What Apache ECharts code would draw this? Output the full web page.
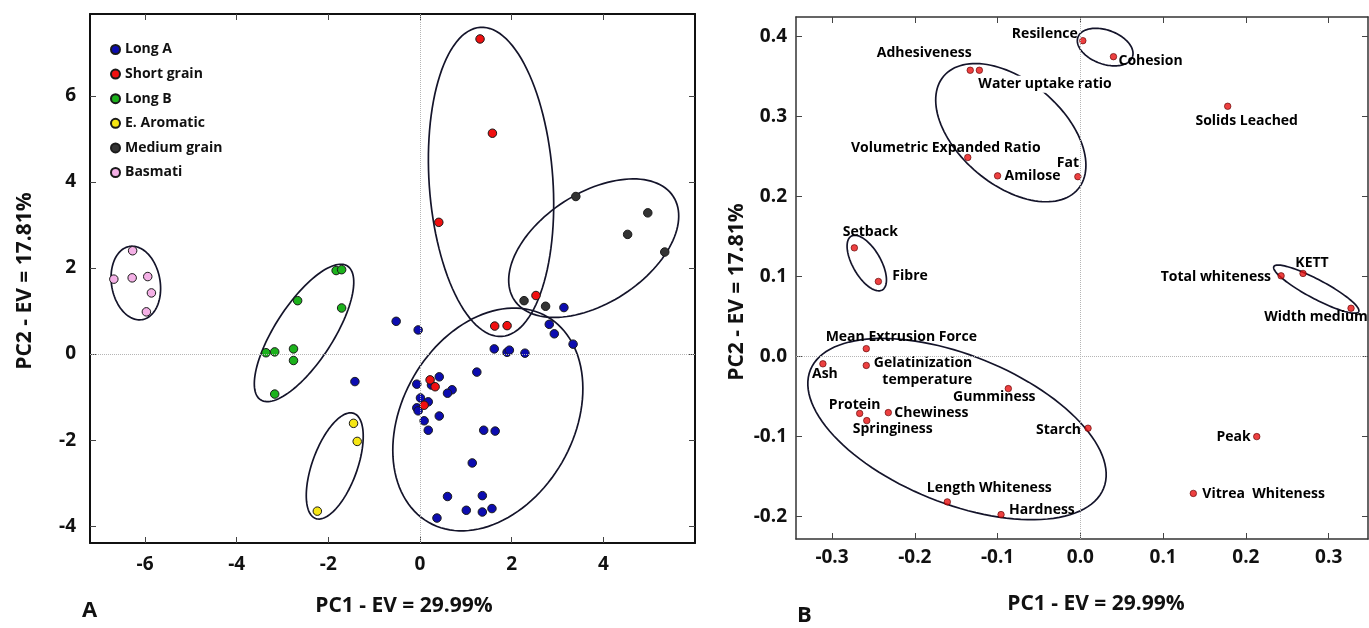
<!DOCTYPE html>
<html>
<head>
<meta charset="utf-8">
<title>PCA scores and loadings</title>
<script src="https://cdn.jsdelivr.net/npm/echarts@6/dist/echarts.min.js"></script>
<style>
  html, body { margin: 0; padding: 0; background: #fff; }
  #chart { width: 1369px; height: 628px; }
</style>
</head>
<body>
<div id="chart"></div>
<script>
// ---------- panel A : PCA scores [PC1, PC2] per rice group ----------
var groupNames = ['Long A', 'Short grain', 'Long B', 'E. Aromatic', 'Medium grain', 'Basmati'];
var groupColors = ['#0c0cb0', '#f01010', '#1cb21c', '#f6e614', '#333333', '#f4b0e6'];

var longA = [[-0.52, 0.76], [-1.42, -0.64], [-0.04, 0.56], [2.82, 0.69], [2.93, 0.47], [3.34, 0.23],
  [1.62, 0.12], [1.90, 0.04], [1.95, 0.09], [2.29, 0.02], [1.24, -0.42], [0.42, -0.53], [0.25, -0.72],
  [-0.07, -0.70], [0.70, -0.83], [0.60, -0.91], [0.01, -1.02], [0.18, -1.11], [-0.07, -1.25],
  [-0.04, -1.32], [0.42, -1.44], [0.09, -1.55], [0.18, -1.77], [1.39, -1.77], [1.64, -1.79],
  [1.14, -2.53], [0.60, -3.31], [1.36, -3.29], [1.01, -3.63], [1.36, -3.67], [1.57, -3.59],
  [0.37, -3.81], [3.14, 1.08]];
var shortGrain = [[1.31, 7.32], [1.58, 5.13], [0.41, 3.06], [2.53, 1.36], [1.63, 0.65], [1.90, 0.66],
  [0.22, -0.60], [0.33, -0.76], [0.09, -1.19]];
var longB = [[-1.83, 1.94], [-1.71, 1.96], [-2.67, 1.24], [-1.71, 1.07], [-3.36, 0.03], [-3.17, 0.05],
  [-2.76, 0.12], [-2.76, -0.15], [-3.17, -0.93]];
var eAromatic = [[-1.45, -1.61], [-1.37, -2.03], [-2.24, -3.65]];
var mediumGrain = [[3.40, 3.66], [4.97, 3.28], [4.53, 2.78], [5.34, 2.37], [2.27, 1.24], [2.74, 1.11]];
var basmati = [[-6.27, 2.40], [-6.68, 1.74], [-6.28, 1.77], [-5.94, 1.80], [-5.86, 1.42], [-5.97, 0.98]];

// group ellipses: centre x, centre y, semi axes (in PC1 units), angle in degrees
var ellipsesA = [
  [-6.20, 1.65, 0.81, 0.53, 100],
  [-2.53, 0.49, 1.74, 0.63, 57],
  [-1.86, -2.60, 1.22, 0.49, 70],
  [1.55, 4.00, 3.38, 1.35, 94],
  [3.79, 2.46, 2.07, 1.20, 33],
  [1.48, -1.52, 2.59, 1.87, 60]
];
var ticksAx = [-6, -4, -2, 0, 2, 4];
var ticksAy = [-4, -2, 0, 2, 4, 6];

// ---------- panel B : loadings ----------
var loadNames = ['Resilence', 'Cohesion', 'Adhesiveness', 'Water uptake ratio', 'Volumetric Expanded Ratio',
  'Amilose', 'Fat', 'Solids Leached', 'Setback', 'Fibre', 'Total whiteness', 'KETT', 'Width medium',
  'Mean Extrusion Force', 'Ash', 'Gelatinization\ntemperature', 'Gumminess', 'Protein', 'Chewiness',
  'Springiness', 'Starch', 'Length Whiteness', 'Hardness', 'Peak', 'Vitrea  Whiteness'];
var loadPC1 = [0.003, 0.040, -0.133, -0.122, -0.136, -0.100, -0.003, 0.178, -0.273, -0.244, 0.2425, 0.269,
  0.327, -0.2586, -0.311, -0.2586, -0.087, -0.2666, -0.232, -0.258, 0.0093, -0.1607, -0.0958, 0.2131, 0.1365];
var loadPC2 = [0.395, 0.375, 0.358, 0.358, 0.249, 0.226, 0.225, 0.313, 0.136, 0.094, 0.101, 0.104,
  0.0605, 0.010, -0.009, -0.011, -0.040, -0.071, -0.070, -0.080, -0.0895, -0.1816, -0.1975, -0.100, -0.171];

var ellipsesB = [
  [0.030, 0.387, 0.035, 0.0205, -20],
  [-0.084, 0.280, 0.106, 0.063, -40],
  [-0.258, 0.117, 0.0375, 0.0169, 120],
  [0.285, 0.0844, 0.058, 0.0115, -28],
  [-0.149, -0.0906, 0.191, 0.0894, -22]
];
var ticksBx = [-0.3, -0.2, -0.1, 0, 0.1, 0.2, 0.3];
var ticksBy = [-0.2, -0.1, 0, 0.1, 0.2, 0.3, 0.4];

// label placement for the loadings: dx, dy, align
var labelPlace = {
  'Resilence': [-5, -7, 'right'],
  'Cohesion': [5, 4, 'left'],
  'Adhesiveness': [-46, -17, 'center'],
  'Water uptake ratio': [-1, 14, 'left'],
  'Volumetric Expanded Ratio': [-22, -9, 'center'],
  'Amilose': [7, 0, 'left'],
  'Fat': [-10, -14, 'center'],
  'Solids Leached': [19, 15, 'center'],
  'Setback': [16, -16, 'center'],
  'Fibre': [14, -5, 'left'],
  'Total whiteness': [-10, 1, 'right'],
  'KETT': [9, -10, 'center'],
  'Width medium': [-35, 9, 'center'],
  'Mean Extrusion Force': [35, -12, 'center'],
  'Ash': [2, 10, 'center'],
  'Gelatinization\ntemperature': [106, 6, 'right'],
  'Gumminess': [-14, 8, 'center'],
  'Protein': [-5, -8, 'center'],
  'Chewiness': [6, 0, 'left'],
  'Springiness': [26, 8, 'center'],
  'Starch': [-7, 2, 'right'],
  'Length Whiteness': [42, -14, 'center'],
  'Hardness': [8, -5, 'left'],
  'Peak': [-6, 0, 'right'],
  'Vitrea  Whiteness': [9, 1, 'left']
};

var FONT = 'Open Sans';
var chart = echarts.init(document.getElementById('chart'));

function makeAxis(grid, pos, min, max, ticks, labelled, fmt, frameColor, frameWidth, margin) {
  return {
    type: 'value', gridIndex: grid, position: pos, min: min, max: max, scale: true,
    axisLine: { show: true, onZero: false, lineStyle: { color: frameColor, width: frameWidth } },
    axisTick: { show: true, inside: true, length: 6, customValues: ticks, lineStyle: { color: '#444', width: 1 } },
    axisLabel: {
      show: labelled, customValues: ticks, formatter: fmt, margin: margin,
      fontFamily: FONT, fontSize: 19, fontWeight: 'bold', color: '#111'
    },
    splitLine: { show: false }
  };
}

function ellipseItem(params, api) {
  var c = api.coord([api.value(0), api.value(1)]);
  var unit = api.size([1, 1])[0];
  var a = api.value(2) * unit, b = api.value(3) * unit;
  var t = api.value(4) * Math.PI / 180;
  var pts = [];
  for (var i = 0; i < 120; i++) {
    var u = i / 120 * 2 * Math.PI;
    var ex = a * Math.cos(u), ey = b * Math.sin(u);
    pts.push([c[0] + ex * Math.cos(t) - ey * Math.sin(t), c[1] - (ex * Math.sin(t) + ey * Math.cos(t))]);
  }
  return { type: 'polygon', shape: { points: pts }, style: { fill: 'none', stroke: '#14142a', lineWidth: 1.7 } };
}

var zeroLines = {
  silent: true, symbol: 'none', label: { show: false },
  lineStyle: { type: 'dotted', color: '#b5b5b5', width: 1 },
  data: [{ xAxis: 0 }, { yAxis: 0 }]
};

var groups = [longA, shortGrain, longB, eAromatic, mediumGrain, basmati];
var series = [];
series.push({ type: 'custom', xAxisIndex: 0, yAxisIndex: 0, z: 1, renderItem: ellipseItem, data: ellipsesA, silent: true });
groups.forEach(function (g, i) {
  series.push({
    name: groupNames[i], type: 'scatter', xAxisIndex: 0, yAxisIndex: 0, z: 3,
    symbolSize: 8.5, data: g,
    itemStyle: { color: groupColors[i], borderColor: '#1a1a1a', borderWidth: 1, opacity: 1 },
    markLine: i === 0 ? zeroLines : undefined
  });
});

series.push({ type: 'custom', xAxisIndex: 2, yAxisIndex: 2, z: 1, renderItem: ellipseItem, data: ellipsesB, silent: true });
series.push({
  name: 'loadings', type: 'scatter', xAxisIndex: 2, yAxisIndex: 2, z: 3, symbolSize: 6.5,
  itemStyle: { color: '#e81010', borderColor: '#5a0000', borderWidth: 0.8 },
  markLine: zeroLines,
  data: loadNames.map(function (n, i) {
    var p = labelPlace[n];
    return {
      name: n, value: [loadPC1[i], loadPC2[i]],
      label: {
        show: true, formatter: n, position: ['50%', '50%'], offset: [p[0], p[1]],
        align: p[2], verticalAlign: 'middle', lineHeight: 17,
        fontFamily: FONT, fontSize: 14, fontWeight: 'bold', color: '#000',
        textBorderWidth: 0, textShadowBlur: 0, opacity: 1,
        backgroundColor: n === 'Water uptake ratio' ? '#fff' : 'transparent'
      }
    };
  })
});

function fmtInt(v) { return String(Math.round(v)); }
function fmtDec(v) { return (Math.abs(v) < 1e-9 ? 0 : v).toFixed(1); }

var option = {
  animation: false,
  backgroundColor: '#fff',
  grid: [
    { left: 90, top: 14, width: 605, height: 529 },
    { left: 796, top: 17, width: 572, height: 522 }
  ],
  xAxis: [
    makeAxis(0, 'bottom', -7.2, 6.0, ticksAx, true, fmtInt, '#111', 2, 12),
    makeAxis(0, 'top', -7.2, 6.0, ticksAx, false, fmtInt, '#111', 2, 12),
    makeAxis(1, 'bottom', -0.3435, 0.3475, ticksBx, true, fmtDec, '#333', 1.5, 9),
    makeAxis(1, 'top', -0.3435, 0.3475, ticksBx, false, fmtDec, '#333', 1.5, 9)
  ],
  yAxis: [
    makeAxis(0, 'left', -4.39, 7.9, ticksAy, true, fmtInt, '#111', 2, 14),
    makeAxis(0, 'right', -4.39, 7.9, ticksAy, false, fmtInt, '#111', 2, 14),
    makeAxis(1, 'left', -0.228, 0.4246, ticksBy, true, fmtDec, '#333', 1.5, 9),
    makeAxis(1, 'right', -0.228, 0.4246, ticksBy, false, fmtDec, '#333', 1.5, 9)
  ],
  legend: {
    data: groupNames, orient: 'vertical', left: 105, top: 37,
    itemWidth: 9, itemHeight: 9, itemGap: 9.6, icon: 'circle',
    textStyle: { fontFamily: FONT, fontSize: 14, fontWeight: 'bold', color: '#111', lineHeight: 15 }
  },
  graphic: [
    { type: 'text', left: 82, top: 600, style: { text: 'A', font: 'bold 22px "Open Sans"', fill: '#111' } },
    { type: 'text', left: 797, top: 605, style: { text: 'B', font: 'bold 22px "Open Sans"', fill: '#111' } },
    { type: 'text', x: 404, y: 606, style: { text: 'PC1 - EV = 29.99%', font: 'bold 21px "Open Sans"', fill: '#111', align: 'center', verticalAlign: 'middle' } },
    { type: 'text', x: 1096, y: 604, style: { text: 'PC1 - EV = 29.99%', font: 'bold 21px "Open Sans"', fill: '#111', align: 'center', verticalAlign: 'middle' } },
    { type: 'text', x: 25, y: 281, rotation: Math.PI / 2, style: { text: 'PC2 - EV = 17.81%', font: 'bold 21px "Open Sans"', fill: '#111', align: 'center', verticalAlign: 'middle' } },
    { type: 'text', x: 737, y: 292, rotation: Math.PI / 2, style: { text: 'PC2 - EV = 17.81%', font: 'bold 21px "Open Sans"', fill: '#111', align: 'center', verticalAlign: 'middle' } }
  ],
  series: series
};

chart.setOption(option);
window.addEventListener('resize', function () { chart.resize(); });
</script>
</body>
</html>
